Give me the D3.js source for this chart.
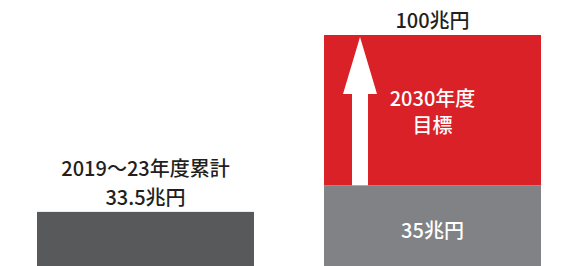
<!DOCTYPE html>
<html>
<head>
<meta charset="utf-8">
<script src="https://cdn.jsdelivr.net/npm/d3@7"></script>
<style>
  body { margin: 0; background: #fff; }
  text { font-family: "Noto Sans CJK JP", "Noto Sans", sans-serif; font-weight: 500; }
</style>
</head>
<body>
<div id="chart"></div>
<script>
// data
var categories = ["2019～23年度累計", "2030年度目標"];
var actualValues = [33.5, 35];
var targetValue = 100;
var actualLabels = ["33.5兆円", "35兆円"];
var targetLabel = "100兆円";
var targetTitle = ["2030年度", "目標"];

var width = 574, height = 266;

var svg = d3.select("#chart")
  .append("svg")
    .attr("width", width)
    .attr("height", height);

var xScale = d3.scaleBand()
    .domain(categories)
    .range([37, 541])
    .paddingInner(0.244)
    .paddingOuter(0);

// target panel scale
var yScale = d3.scaleLinear()
    .domain([0, targetValue])
    .range([height, 35]);

// the cumulative panel is not drawn to the same scale in the original
var yCum = d3.scaleLinear()
    .domain([0, 143])
    .range([height, 35]);

var bw = xScale.bandwidth();

// left bar - cumulative
svg.append("rect")
    .attr("x", xScale(categories[0]))
    .attr("y", yCum(actualValues[0]))
    .attr("width", bw)
    .attr("height", yCum(0) - yCum(actualValues[0]))
    .style("fill", "#58595b");

// right bar - target (red) on top of base (gray)
svg.append("rect")
    .attr("x", xScale(categories[1]))
    .attr("y", yScale(targetValue))
    .attr("width", bw)
    .attr("height", yScale(actualValues[1]) - yScale(targetValue))
    .style("fill", "#da2128");

svg.append("rect")
    .attr("x", xScale(categories[1]))
    .attr("y", yScale(actualValues[1]))
    .attr("width", bw)
    .attr("height", yScale(0) - yScale(actualValues[1]))
    .style("fill", "#808285");

// arrow
var ax = xScale(categories[1]) + 36;
var tipY = yScale(targetValue) + 2;
var baseY = yScale(actualValues[1]);
var arrow = d3.path();
arrow.moveTo(ax, tipY);
arrow.lineTo(ax + 17, tipY + 57);
arrow.lineTo(ax + 8, tipY + 57);
arrow.lineTo(ax + 8, baseY);
arrow.lineTo(ax - 8, baseY);
arrow.lineTo(ax - 8, tipY + 57);
arrow.lineTo(ax - 17, tipY + 57);
arrow.closePath();
svg.append("path")
    .attr("d", arrow.toString())
    .style("fill", "#fff");

// labels
var cx0 = xScale(categories[0]) + bw / 2;
var cx1 = xScale(categories[1]) + bw / 2;

svg.append("text")
    .attr("x", cx0)
    .attr("y", yCum(actualValues[0]) - 36)
    .attr("text-anchor", "middle")
    .style("font-size", "20px")
    .style("fill", "#231f20")
    .text(categories[0]);

svg.append("text")
    .attr("x", cx0)
    .attr("y", yCum(actualValues[0]) - 7)
    .attr("text-anchor", "middle")
    .style("font-size", "20px")
    .style("fill", "#231f20")
    .text(actualLabels[0]);

svg.append("text")
    .attr("x", cx1)
    .attr("y", yScale(targetValue) - 7)
    .attr("text-anchor", "middle")
    .style("font-size", "20px")
    .style("fill", "#231f20")
    .text(targetLabel);

svg.selectAll(".title")
    .data(targetTitle)
    .enter()
    .append("text")
    .attr("x", cx1)
    .attr("y", (d, i) => 106 + i * 27)
    .attr("text-anchor", "middle")
    .style("font-size", "20px")
    .style("fill", "#fff")
    .text(d => d);

svg.append("text")
    .attr("x", cx1)
    .attr("y", (yScale(actualValues[1]) + yScale(0)) / 2 + 12)
    .attr("text-anchor", "middle")
    .style("font-size", "20px")
    .style("fill", "#fff")
    .text(actualLabels[1]);
</script>
</body>
</html>
